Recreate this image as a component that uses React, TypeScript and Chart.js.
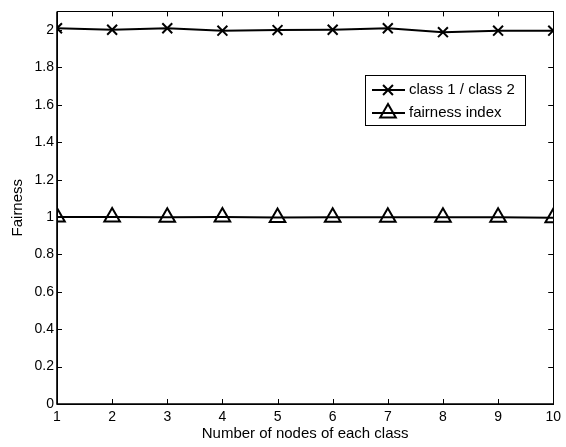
import React, { useEffect, useRef } from "react";
import { Chart, registerables } from "chart.js";

Chart.register(...registerables);

// Number of nodes in each traffic class (x axis)
const nodeCounts = [1, 2, 3, 4, 5, 6, 7, 8, 9, 10];
// Throughput ratio between class 1 and class 2
const classRatio = [2.01, 2.002, 2.01, 1.997, 2.0, 2.002, 2.01, 1.989, 1.997, 1.997];
// Jain's fairness index
const fairnessIndex = [1.0, 1.0, 0.999, 1.0, 0.997, 0.999, 0.999, 0.999, 0.999, 0.996];
const yTickValues = [0, 0.2, 0.4, 0.6, 0.8, 1, 1.2, 1.4, 1.6, 1.8, 2];
const seriesLabels = ["class 1 / class 2", "fairness index"];

const FONT = "'Liberation Sans', Arial, Helvetica, sans-serif";

function drawMarker(ctx: CanvasRenderingContext2D, style: string, x: number, y: number, r: number) {
  ctx.beginPath();
  if (style === "crossRot") {
    const d = r * Math.SQRT1_2;
    ctx.moveTo(x - d, y - d);
    ctx.lineTo(x + d, y + d);
    ctx.moveTo(x + d, y - d);
    ctx.lineTo(x - d, y + d);
  } else {
    const s = Math.sin(Math.PI / 3) * r;
    ctx.moveTo(x, y - r);
    ctx.lineTo(x + s, y + r / 2);
    ctx.lineTo(x - s, y + r / 2);
    ctx.closePath();
  }
  ctx.stroke();
}

// Box around the plot with inward tick marks on all four sides, plus the legend
const framePlugin = {
  id: "frameAndLegend",
  afterDatasetsDraw(chart: any) {
    const { ctx, chartArea, scales } = chart;
    const { left, right, top, bottom } = chartArea;
    const xs = scales.x;
    const ys = scales.y;
    ctx.save();
    ctx.strokeStyle = "#000";
    ctx.lineWidth = 1;
    ctx.strokeRect(Math.round(left) + 0.5, Math.round(top) + 0.5, Math.round(right - left), Math.round(bottom - top));
    ctx.lineWidth = 1.6;
    ctx.beginPath();
    ctx.moveTo(left, top);
    ctx.lineTo(left, bottom);
    ctx.lineTo(right, bottom);
    ctx.stroke();
    ctx.lineWidth = 1;
    const tl = 5;
    ctx.beginPath();
    for (const n of nodeCounts) {
      const px = Math.round(xs.getPixelForValue(n)) + 0.5;
      ctx.moveTo(px, bottom);
      ctx.lineTo(px, bottom - tl);
      ctx.moveTo(px, top);
      ctx.lineTo(px, top + tl);
    }
    for (const v of yTickValues) {
      const py = Math.round(ys.getPixelForValue(v)) + 0.5;
      ctx.moveTo(left, py);
      ctx.lineTo(left + tl, py);
      ctx.moveTo(right, py);
      ctx.lineTo(right - tl, py);
    }
    ctx.stroke();

    // Legend
    const bx = 365.5, by = 75.5, bw = 160, bh = 50;
    ctx.fillStyle = "#fff";
    ctx.fillRect(bx, by, bw, bh);
    ctx.strokeRect(bx, by, bw, bh);
    const rowY = [90, 113];
    chart.data.datasets.forEach((ds: any, i: number) => {
      const yy = rowY[i];
      ctx.lineWidth = 2;
      ctx.beginPath();
      ctx.moveTo(372, yy);
      ctx.lineTo(405, yy);
      ctx.stroke();
      drawMarker(ctx, ds.pointStyle, 388, yy, ds.pointRadius);
      ctx.fillStyle = "#000";
      ctx.font = `15px ${FONT}`;
      ctx.textBaseline = "middle";
      ctx.textAlign = "left";
      ctx.fillText(ds.label, 409, yy);
    });
    ctx.restore();
  },
};

export default function App() {
  const canvasRef = useRef<HTMLCanvasElement | null>(null);

  useEffect(() => {
    if (!canvasRef.current) return;
    const chart = new Chart(canvasRef.current, {
      type: "line",
      data: {
        datasets: [
          {
            label: seriesLabels[0],
            data: nodeCounts.map((n, i) => ({ x: n, y: classRatio[i] })),
            borderColor: "#000",
            borderWidth: 2,
            pointStyle: "crossRot",
            pointRadius: 7,
            pointBorderWidth: 2,
            pointBorderColor: "#000",
            pointBackgroundColor: "rgba(0,0,0,0)",
            tension: 0,
          },
          {
            label: seriesLabels[1],
            data: nodeCounts.map((n, i) => ({ x: n, y: fairnessIndex[i] })),
            borderColor: "#000",
            borderWidth: 2,
            pointStyle: "triangle",
            pointRadius: 9,
            pointBorderWidth: 2,
            pointBorderColor: "#000",
            pointBackgroundColor: "rgba(0,0,0,0)",
            tension: 0,
          },
        ],
      },
      options: {
        animation: false,
        responsive: false,
        devicePixelRatio: 1,
        layout: { padding: { left: 0, right: 9, top: 9, bottom: 0 } },
        plugins: {
          legend: { display: false },
          tooltip: { enabled: false },
        },
        scales: {
          x: {
            type: "linear",
            min: 1,
            max: 10,
            grid: { display: false, drawTicks: false },
            border: { display: false },
            ticks: {
              stepSize: 1,
              padding: 5,
              color: "#000",
              font: { family: FONT, size: 14 },
              maxRotation: 0,
              callback: (v: any) => String(v),
            },
            title: {
              display: true,
              text: "Number of nodes of each class",
              color: "#000",
              font: { family: FONT, size: 15 },
              padding: { top: 0, bottom: 4 },
            },
            afterFit: (s: any) => {
              s.height = 43;
            },
          },
          y: {
            type: "linear",
            min: 0,
            max: 2.1,
            grid: { display: false, drawTicks: false },
            border: { display: false },
            afterBuildTicks: (s: any) => {
              s.ticks = yTickValues.map((v) => ({ value: v }));
            },
            ticks: {
              padding: 3,
              color: "#000",
              font: { family: FONT, size: 14 },
              callback: (v: any) => String(Math.round(Number(v) * 10) / 10),
            },
            title: {
              display: true,
              text: "Fairness",
              color: "#000",
              font: { family: FONT, size: 15 },
              padding: { top: 9, bottom: 0 },
            },
            afterFit: (s: any) => {
              s.width = 57;
            },
          },
        },
      },
      plugins: [framePlugin],
    });
    return () => chart.destroy();
  }, []);

  return (
    <div style={{ position: "absolute", left: 0, top: 0, width: 566, height: 447, background: "#fff" }}>
      <canvas ref={canvasRef} width={566} height={447} style={{ display: "block" }} />
    </div>
  );
}
